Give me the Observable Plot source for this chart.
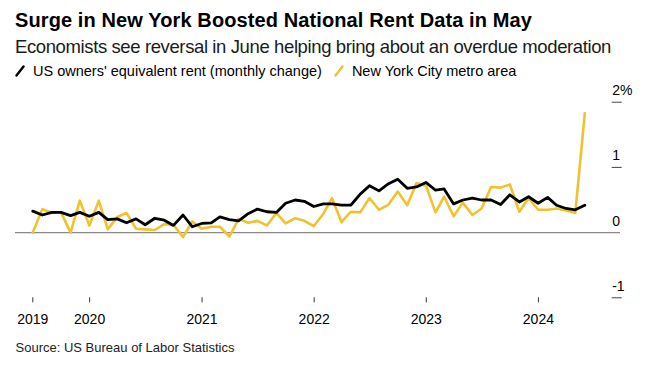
<!DOCTYPE html>
<html>
<head>
<meta charset="utf-8">
<script src="https://cdn.jsdelivr.net/npm/d3@7"></script>
<script src="https://cdn.jsdelivr.net/npm/@observablehq/plot@0.6"></script>
<style>
  html, body { margin: 0; padding: 0; background: #fff; }
  body { width: 659px; height: 371px; position: relative; overflow: hidden; font-family: "Liberation Sans", Arial, Helvetica, sans-serif; color: #000; }
  .t { position: absolute; white-space: nowrap; line-height: 1; }
  #title { left: 15px; top: 9.8px; font-size: 20px; font-weight: bold; }
  #subtitle { left: 15px; top: 37.5px; font-size: 18.5px; color: #1a1a1a; }
  #legend { left: 15px; top: 63.5px; font-size: 14.5px; display: flex; align-items: center; }
  #legend .sw { display: inline-block; width: 10px; height: 12px; margin-right: 8px; }
  #legend .item { display: flex; align-items: center; }
  #source { left: 15.5px; top: 341.3px; font-size: 13px; color: #222; }
  #chart { position: absolute; left: 0; top: 80px; }
</style>
</head>
<body>
<div id="title" class="t" data-w="517">Surge in New York Boosted National Rent Data in May</div>
<div id="subtitle" class="t" data-w="596">Economists see reversal in June helping bring about an overdue moderation</div>
<div id="legend" class="t"></div>
<div id="chart"></div>
<div id="source" class="t" data-w="219">Source: US Bureau of Labor Statistics</div>
<script>
// Monthly change, %, Jun 2019 – May 2024
const seriesNames = ["US owners' equivalent rent (monthly change)", "New York City metro area"];
const seriesColors = ["#000000", "#f0c22e"];
const oer = [0.33,0.27,0.31,0.31,0.26,0.31,0.25,0.31,0.20,0.21,0.15,0.21,0.12,0.22,0.19,0.11,0.27,0.09,0.14,0.15,
             0.24,0.20,0.18,0.29,0.36,0.32,0.31,0.45,0.50,0.48,0.40,0.44,0.44,0.42,0.42,0.59,0.72,0.64,0.75,0.82,
             0.68,0.70,0.77,0.65,0.67,0.44,0.50,0.53,0.50,0.50,0.43,0.58,0.47,0.55,0.45,0.54,0.42,0.37,0.35,0.42];
const nyc = [0.00,0.36,0.30,0.31,0.00,0.49,0.11,0.49,0.05,0.24,0.30,0.06,0.05,0.04,0.13,0.12,-0.07,0.17,0.06,0.09,
             0.09,-0.06,0.21,0.15,0.18,0.11,0.30,0.14,0.22,0.18,0.10,0.29,0.53,0.16,0.32,0.31,0.53,0.35,0.43,0.63,
             0.42,0.76,0.72,0.31,0.55,0.25,0.46,0.27,0.37,0.70,0.69,0.74,0.32,0.53,0.35,0.35,0.37,0.34,0.30,1.83];
const months = d3.utcMonths(new Date("2019-07-01"), new Date("2024-06-02")).map(d => d3.utcDay.offset(d, -1));
const xTicks = [new Date("2019-06-30"), new Date("2020-01-01"), new Date("2021-01-01"), new Date("2022-01-01"), new Date("2023-01-01"), new Date("2024-01-01")];
const xTickLabels = ["2019", "2020", "2021", "2022", "2023", "2024"];
const yTicks = [-1, 0, 1, 2];
const yTickLabels = ["-1", "0", "1", "2%"];

const rows = [];
months.forEach((d, i) => {
  rows.push({date: d, value: nyc[i], series: seriesNames[1]});
});
months.forEach((d, i) => {
  rows.push({date: d, value: oer[i], series: seriesNames[0]});
});

// legend
const legend = document.getElementById("legend");
seriesNames.forEach((name, i) => {
  const item = document.createElement("span");
  item.className = "item";
  item.style.marginRight = i === 0 ? "12px" : "0";
  item.innerHTML = `<svg class="sw" viewBox="0 0 10 12"><line x1="1.5" y1="10.5" x2="8.5" y2="1.5" stroke="${seriesColors[i]}" stroke-width="2.4" stroke-linecap="round"/></svg><span>${name}</span>`;
  legend.appendChild(item);
});

const fmtX = new Map(xTicks.map((d, i) => [+d, xTickLabels[i]]));
const fmtY = new Map(yTicks.map((d, i) => [d, yTickLabels[i]]));

const chart = Plot.plot({
  width: 659,
  height: 250,
  marginTop: 21.7,
  marginBottom: 32.7,
  marginLeft: 15,
  marginRight: 48.3,
  style: {fontFamily: "'Liberation Sans', Arial, sans-serif", fontSize: "14px", color: "#000", background: "#fff"},
  x: {type: "utc", domain: [months[0], months[months.length - 1]], insetLeft: 17.3, insetRight: 26.4},
  y: {domain: [-1, 2]},
  color: {domain: seriesNames, range: seriesColors},
  marks: [
    Plot.ruleY([0], {stroke: "#8a8a8a", strokeWidth: 1.4, insetRight: -9.3}),
    Plot.axisX({ticks: xTicks, tickSize: 5, tickPadding: 11, tickFormat: d => fmtX.get(+d), stroke: "#333", fontSize: 14, fill: "#000", label: null}),
    Plot.axisY({anchor: "right", ticks: yTicks.filter(d => d !== 0), tickSize: 10, tickFormat: () => "", stroke: "#444", label: null}),
    Plot.axisY({anchor: "right", ticks: yTicks, tickSize: 0, tickPadding: 0, textAnchor: "start", lineAnchor: "bottom", dy: -7, dx: 1, tickFormat: d => fmtY.get(d), fontSize: 14, fill: "#000", label: null}),
    Plot.lineY(rows.filter(r => r.series === seriesNames[1]), {x: "date", y: "value", stroke: "series", strokeWidth: 2.6}),
    Plot.lineY(rows.filter(r => r.series === seriesNames[0]), {x: "date", y: "value", stroke: "series", strokeWidth: 2.8})
  ]
});
document.getElementById("chart").appendChild(chart);

// fit text widths to the reference by small letter-spacing adjustment
document.querySelectorAll("[data-w]").forEach(el => {
  const target = +el.dataset.w;
  const w = el.getBoundingClientRect().width;
  const n = el.textContent.length;
  el.style.letterSpacing = ((target - w) / n) + "px";
});
</script>
</body>
</html>
